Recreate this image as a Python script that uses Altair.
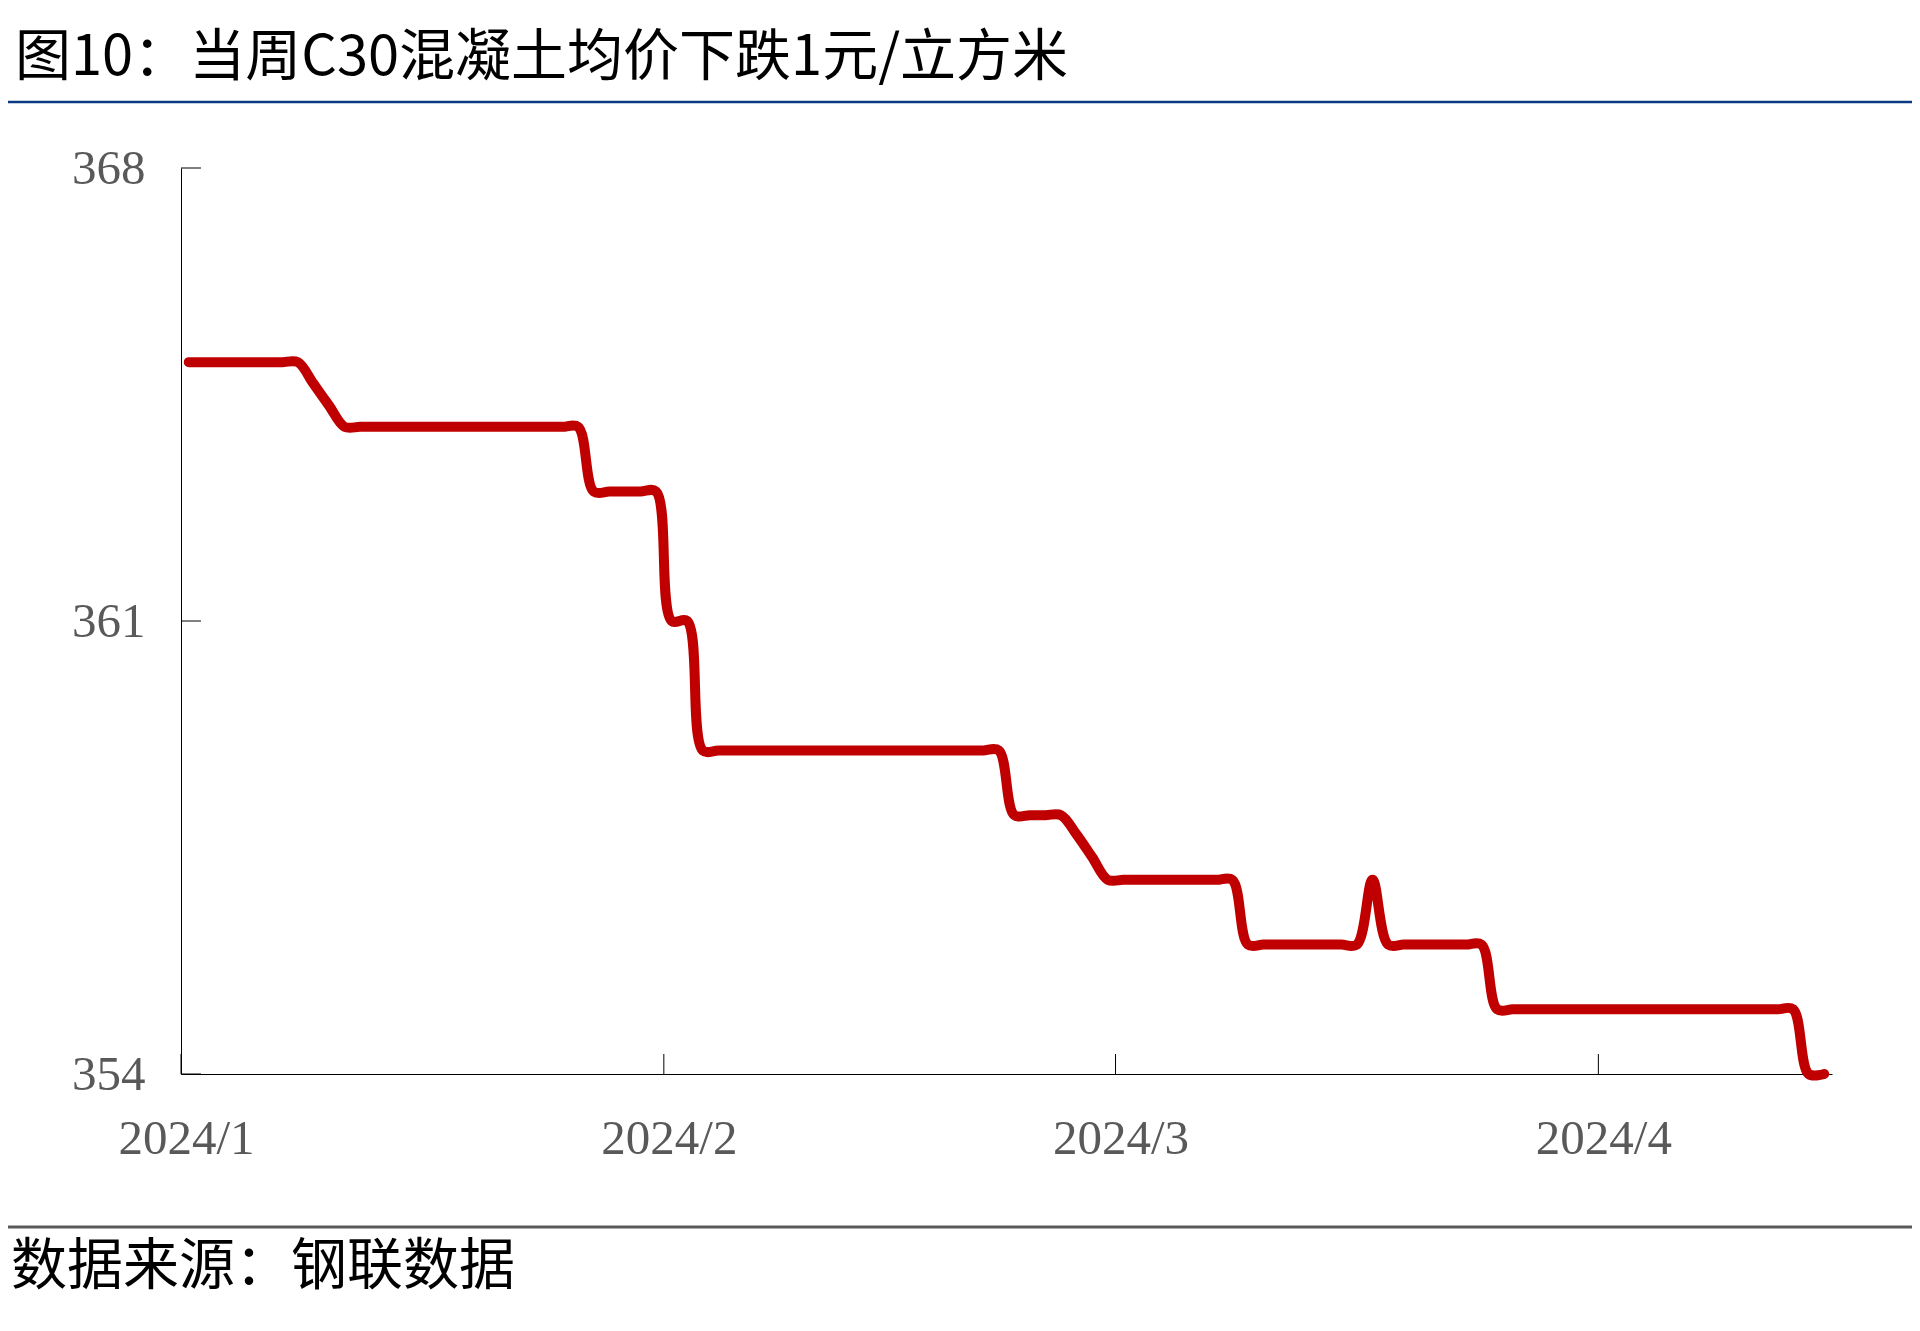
import altair as alt
import pandas as pd

# ---------------- data ----------------
start_date = "2024-01-01"
end_date = "2024-04-15"

jan_prices = [365, 365, 365, 365, 365, 365, 365, 365,
              364.67, 364.33,
              364, 364, 364, 364, 364, 364, 364, 364, 364, 364, 364, 364, 364, 364, 364, 364,
              363, 363, 363, 363, 363]
feb_prices = [361, 361,
              359, 359, 359, 359, 359, 359, 359, 359, 359, 359,
              359, 359, 359, 359, 359, 359, 359, 359, 359, 359,
              358, 358, 358, 358,
              357.7, 357.35, 357]
mar_prices = [357, 357, 357, 357, 357, 357, 357, 357,
              356, 356, 356, 356, 356, 356, 356, 356,
              357,
              356, 356, 356, 356, 356, 356, 356,
              355, 355, 355, 355, 355, 355, 355]
apr_prices = [355, 355, 355, 355, 355, 355, 355, 355, 355, 355, 355, 355, 355,
              354, 354]

prices = jan_prices + feb_prices + mar_prices + apr_prices
dates = pd.date_range(start_date, end_date, freq="D").strftime("%Y-%m-%d").tolist()

y_ticks = [354, 361, 368]
x_ticks = ["2024-01-01", "2024-02-01", "2024-03-01", "2024-04-01"]
x_domain = ["2024-01-01", "2024-04-16"]
y_domain = [354, 368]

title_text = "图10：当周C30混凝土均价下跌1元/立方米"
source_text = "数据来源：钢联数据"


def ms(d):
    return int(pd.Timestamp(d, tz="UTC").value // 10**6)


# ---------------- layout ----------------
W, H = 1651, 906
PAD = {"left": 173, "top": 160, "right": 80, "bottom": 245}

x_scale = alt.Scale(type="utc", domain=[ms(d) for d in x_domain], nice=False)
y_scale = alt.Scale(domain=y_domain, nice=False, zero=False)

x_axis = alt.Axis(
    values=[ms(d) for d in x_ticks],
    labelExpr="utcFormat(datum.value, '%Y/%-m')",
    ticks=False, tickSize=0, grid=False,
    domainColor="#000000", domainWidth=1,
    labelFont="Liberation Serif", labelFontSize=49, labelColor="#595959",
    labelPadding=40, labelOffset=5, labelFlush=False, labelOverlap=False,
    labelAngle=0, title=None,
)
y_axis = alt.Axis(
    values=y_ticks,
    ticks=False, tickSize=0, grid=False,
    domainColor="#000000", domainWidth=1,
    labelFont="Liberation Serif", labelFontSize=49, labelColor="#595959",
    labelPadding=36, labelFlush=False, labelOverlap=False, title=None,
)

df = pd.DataFrame({"date": dates, "price": prices})

line = (
    alt.Chart(df)
    .transform_calculate(t="toNumber(toDate(datum.date)) + 43200000")
    .mark_line(color="#C00000", strokeWidth=10, interpolate="catmull-rom",
               strokeCap="round", strokeJoin="round")
    .encode(
        x=alt.X("t:T", scale=x_scale, axis=x_axis),
        y=alt.Y("price:Q", scale=y_scale, axis=y_axis),
    )
)

y_tick_marks = (
    alt.Chart(pd.DataFrame({"v": y_ticks}))
    .mark_rule(color="#000000", strokeWidth=1)
    .encode(
        y=alt.Y("v:Q", scale=y_scale, axis=y_axis),
        x=alt.value(0), x2=alt.value(20),
    )
)

x_tick_marks = (
    alt.Chart(pd.DataFrame({"d": x_ticks}))
    .transform_calculate(t="toNumber(toDate(datum.d))")
    .mark_rule(color="#000000", strokeWidth=1)
    .encode(
        x=alt.X("t:T", scale=x_scale, axis=x_axis),
        y=alt.value(H), y2=alt.value(H - 20),
    )
)

one = pd.DataFrame({"k": [0]})

top_rule = alt.Chart(one).mark_rule(color="#0B3A82", strokeWidth=2.5).encode(
    x=alt.value(-PAD["left"]), x2=alt.value(W + PAD["right"]), y=alt.value(-66)
)
bottom_rule = alt.Chart(one).mark_rule(color="#595959", strokeWidth=3).encode(
    x=alt.value(-PAD["left"]), x2=alt.value(W + PAD["right"]), y=alt.value(1059)
)

title = alt.Chart(one).mark_text(
    align="left", baseline="middle", font="Noto Sans CJK SC",
    fontSize=56, color="#000000"
).encode(x=alt.value(-166), y=alt.value(-110), text=alt.value(title_text))

footer = alt.Chart(one).mark_text(
    align="left", baseline="middle", font="Noto Sans CJK SC",
    fontSize=56, color="#000000"
).encode(x=alt.value(-170), y=alt.value(1099), text=alt.value(source_text))

chart = (
    alt.layer(line, y_tick_marks, x_tick_marks, top_rule, bottom_rule, title, footer)
    .properties(width=W, height=H, padding=PAD,
                autosize=alt.AutoSizeParams(type="none"))
    .configure_view(stroke="transparent")
)

chart.save("out.html", embed_options={"renderer": "svg", "actions": False})
